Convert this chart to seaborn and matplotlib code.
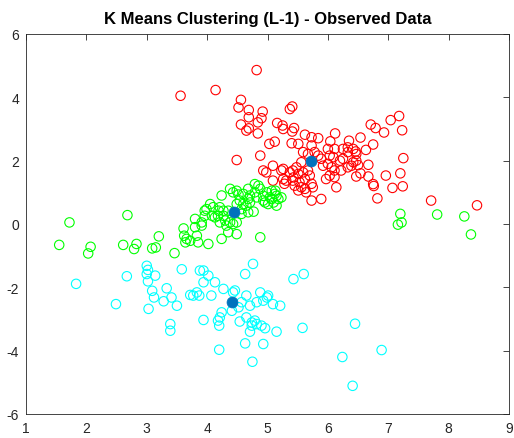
import numpy as np
import pandas as pd
import matplotlib
matplotlib.use("Agg")
import matplotlib.pyplot as plt
import seaborn as sns

# ---------------- data ----------------
red_x = [4.82, 4.14, 3.56, 4.56, 4.52, 4.69, 4.92, 4.69, 4.90, 5.37, 5.41, 4.56, 4.69, 4.65, 4.84,
         4.84, 5.16, 5.25, 5.26, 5.41, 5.44, 5.62, 5.73, 5.84, 6.12, 6.04, 5.03, 5.12, 5.40, 5.51,
         4.49, 4.88, 7.18, 7.04, 6.71, 6.79, 6.93, 7.23, 6.54, 6.75, 6.63, 7.25, 6.35, 6.42, 6.46,
         6.47, 6.67, 5.73, 6.00, 6.11, 6.25, 6.33, 6.47, 5.59, 5.67, 5.78, 5.84, 5.89, 5.56, 5.48,
         5.42, 5.51, 5.59, 5.67, 5.70, 5.62, 5.53, 5.42, 5.31, 5.28, 5.45, 5.56, 5.64, 5.73, 5.75,
         5.62, 5.51, 5.92, 6.00, 6.06, 6.11, 6.03, 5.97, 6.11, 6.20, 6.25, 6.33, 6.42, 6.33, 6.22,
         6.09, 6.03, 5.09, 5.23, 5.09, 4.93, 4.98, 5.73, 5.89, 6.14, 6.39, 6.50, 6.47, 6.54, 6.67,
         6.75, 6.76, 6.96, 7.20, 7.07, 7.24, 6.82, 7.71, 8.47, 5.26, 5.37, 5.43, 5.26]
red_y = [4.86, 4.23, 4.05, 3.92, 3.68, 3.60, 3.55, 3.37, 3.34, 3.63, 3.71, 3.14, 3.02, 2.95, 3.21,
         2.86, 3.19, 3.11, 3.00, 2.92, 3.03, 2.82, 2.74, 2.71, 2.86, 2.61, 2.53, 2.60, 2.55, 2.53,
         2.02, 2.16, 3.41, 3.28, 3.14, 3.03, 2.89, 2.96, 2.73, 2.51, 2.34, 2.08, 2.63, 2.37, 2.29,
         2.00, 1.87, 2.48, 2.37, 2.37, 2.37, 2.42, 2.21, 2.27, 2.21, 2.27, 2.16, 2.06, 1.95, 1.79,
         1.69, 1.58, 1.63, 1.69, 1.53, 1.42, 1.32, 1.37, 1.37, 1.27, 1.21, 1.16, 1.00, 1.27, 1.16,
         1.11, 1.06, 1.84, 1.90, 1.79, 1.69, 1.53, 1.42, 1.48, 2.00, 2.06, 2.27, 1.95, 1.79, 1.69,
         2.11, 2.16, 1.84, 1.69, 1.37, 1.69, 1.63, 0.74, 0.79, 1.16, 1.84, 1.86, 1.50, 1.60, 1.50,
         1.26, 1.20, 1.53, 1.60, 1.14, 1.19, 0.81, 0.74, 0.59, 1.74, 1.63, 1.47, 1.42]

green_x = [4.38, 4.43, 4.49, 4.60, 4.68, 4.71, 4.79, 4.85, 4.88, 4.82, 4.99, 5.07, 5.12, 5.04, 5.10,
           5.15, 5.01, 4.93, 5.23, 5.18, 4.24, 4.05, 3.99, 4.10, 4.21, 4.27, 4.18, 4.13, 4.30, 4.32,
           4.43, 4.49, 4.57, 3.96, 3.80, 3.91, 3.83, 3.85, 4.02, 4.24, 4.35, 4.49, 4.88, 3.72,
           4.79, 4.52, 4.68, 4.93, 5.15, 5.13, 5.07, 4.96, 4.54, 4.49, 4.60, 4.65, 4.57, 4.68, 4.77,
           4.71, 3.96, 4.19, 4.27, 4.35, 4.21, 4.38, 4.08, 3.91, 3.80,
           1.72, 2.68, 1.55, 2.07, 2.03, 2.61, 2.83, 2.79, 3.20, 3.09, 3.15, 3.46, 3.61, 3.62, 3.64,
           3.66, 7.20, 7.22, 7.16, 7.81, 8.26, 8.37]
green_y = [1.11, 1.00, 1.05, 0.95, 1.11, 0.90, 1.00, 1.21, 1.11, 0.84, 1.00, 1.05, 0.95, 0.84, 0.68,
           0.58, 0.63, 0.74, 0.84, 0.79, 0.90, 0.63, 0.47, 0.53, 0.53, 0.42, 0.26, 0.21, 0.11, -0.05,
           0.00, 0.05, 0.32, 0.26, 0.16, -0.05, -0.37, -0.58, -0.63, -0.47, -0.26, -0.32, -0.42, -0.53,
           1.26, 0.93, 0.79, 0.89, 0.89, 1.05, 0.79, 0.68, 0.74, 0.63, 0.63, 0.58, 0.47, 0.37, 0.39,
           0.68, 0.42, 0.42, 0.26, 0.42, 0.05, 0.05, 0.26, 0.05, -0.10,
           0.05, 0.28, -0.66, -0.72, -0.93, -0.66, -0.63, -0.79, -0.39, -0.77, -0.74, -0.92, -0.14,
           -0.37, -0.58, -0.47, 0.32, 0.05, -0.02, 0.30, 0.24, -0.33]

cyan_x = [1.83, 2.67, 3.00, 3.02, 3.00, 3.14, 3.02, 3.58, 3.09, 3.33,
          2.49, 3.03, 3.12, 3.28, 3.41, 3.50, 3.39, 3.39, 3.72,
          3.88, 3.94, 4.02, 3.94, 4.13, 4.63, 4.76, 5.43, 5.60, 3.83, 4.43,
          3.77, 3.87, 4.07, 4.27, 4.46, 4.65, 4.88, 4.99, 5.01, 4.93, 4.82, 4.71, 4.57, 4.52, 4.41,
          4.24, 4.21, 4.18, 4.20, 3.94, 4.54, 4.65, 4.74, 4.79, 4.82, 4.74, 4.71, 4.90, 4.96, 5.15,
          5.09, 5.21, 4.63, 4.93, 4.20, 4.75, 5.58, 6.24, 6.45, 6.89, 6.41]
cyan_y = [-1.89, -1.65, -1.32, -1.45, -1.58, -1.63, -1.81, -1.43, -2.11, -2.03,
          -2.53, -2.68, -2.32, -2.44, -2.32, -2.58, -3.16, -3.37, -2.24,
          -1.47, -1.47, -1.63, -1.84, -1.84, -1.58, -1.26, -1.74, -1.58, -2.16, -2.16,
          -2.26, -2.26, -2.26, -2.05, -2.10, -2.26, -2.16, -2.32, -2.26, -2.42, -2.47, -2.58, -2.47,
          -2.63, -2.74, -2.79, -2.95, -3.05, -3.21, -3.03, -3.08, -2.95, -3.11, -3.05, -3.16, -3.21,
          -3.40, -3.21, -3.29, -3.40, -2.53, -2.58, -3.77, -3.79, -3.97, -4.35, -3.28, -4.20, -3.15,
          -3.98, -5.11]

centroid_x = [5.72, 4.45, 4.41]
centroid_y = [2.00, 0.37, -2.45]

x_ticks = [1, 2, 3, 4, 5, 6, 7, 8, 9]
y_ticks = [-6, -4, -2, 0, 2, 4, 6]
title = "K Means Clustering (L-1) - Observed Data"

# ---------------- plot ----------------
sns.set_style("white")
plt.rcParams["font.family"] = ["Liberation Sans", "DejaVu Sans"]
plt.rcParams["axes.unicode_minus"] = False

fig = plt.figure(figsize=(5.14, 4.39), dpi=100)
ax = fig.add_axes([26 / 514, 24 / 439, 483 / 514, 380 / 439])

clusters = [(red_x, red_y, "#FF0000"), (green_x, green_y, "#00FF00"), (cyan_x, cyan_y, "#00FFFF")]
for xs, ys, col in clusters:
    df = pd.DataFrame({"x": xs, "y": ys})
    sns.scatterplot(data=df, x="x", y="y", ax=ax, s=46, color=col, facecolor="none",
                    edgecolor=col, linewidth=0.8, legend=False, zorder=2)

cdf = pd.DataFrame({"x": centroid_x, "y": centroid_y})
sns.scatterplot(data=cdf, x="x", y="y", ax=ax, s=62, color="#0072BD",
                edgecolor="#0072BD", linewidth=0.5, legend=False, zorder=3)

ax.set_xlim(1, 9)
ax.set_ylim(-6, 6)
ax.set_xticks(x_ticks)
ax.set_yticks(y_ticks)
ax.set_xlabel("")
ax.set_ylabel("")
ax.tick_params(direction="in", top=True, right=True, length=4, width=0.6,
               colors="#262626", labelsize=10, pad=5)
for sp in ax.spines.values():
    sp.set_color("#262626")
    sp.set_linewidth(0.6)
ax.set_title(title, fontsize=12, fontweight="bold", pad=8, color="black")

fig.savefig("out.png", dpi=100)
